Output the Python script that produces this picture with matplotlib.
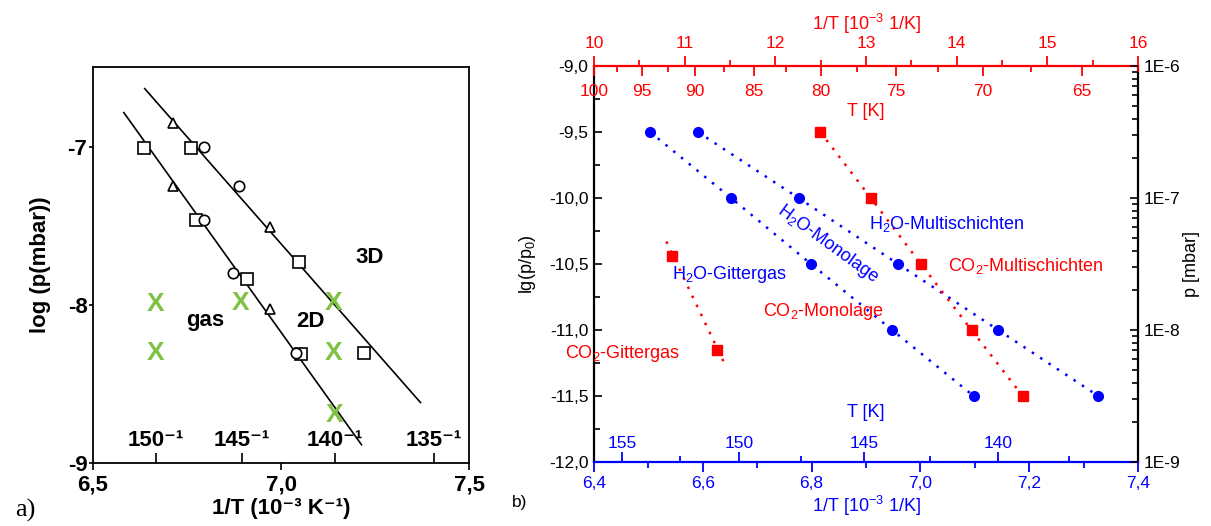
import numpy as np
import matplotlib.pyplot as plt
from matplotlib.ticker import FixedLocator, FuncFormatter, MultipleLocator, NullFormatter

plt.rcParams['font.family'] = ['Liberation Sans', 'DejaVu Sans']
plt.rcParams['mathtext.default'] = 'regular'

# ---------------- panel a) : log p vs 1/T (scanned plot)
a_sq_x = [6.760, 7.047, 7.221, 6.636, 6.775, 6.910, 7.053]
a_sq_y = [-7.004, -7.726, -8.305, -7.004, -7.459, -7.834, -8.309]
a_ci_x = [6.795, 6.888, 6.795, 6.873, 7.041]
a_ci_y = [-7.0, -7.242, -7.457, -7.794, -8.301]
a_tr_x = [6.713, 6.970, 6.713, 6.972]
a_tr_y = [-6.842, -7.501, -7.242, -8.027]
fit_up_x = [6.6375, 7.371]
fit_up_y = [-6.627, -8.617]
fit_lo_x = [6.582, 7.214]
fit_lo_y = [-6.779, -8.884]
cross_x = [6.667, 6.667, 6.892, 7.139, 7.139, 7.142]
cross_y = [-7.994, -8.301, -7.983, -7.989, -8.301, -8.695]
a_T = [150, 145, 140, 135]
a_xticks = [6.5, 7.0, 7.5]
a_yticks = [-7, -8, -9]

# ---------------- panel b) : lg(p/p0) vs 1/T
lg_vals = [-9.5, -10.0, -10.5, -11.0, -11.5]
h2o_gas_x = [6.503, 6.652, 6.799, 6.948, 7.098]
h2o_multi_x = [6.591, 6.776, 6.959, 7.143, 7.327]
co2_multi_x = [6.816, 6.909, 7.001, 7.094, 7.188]
co2_gas_x = [6.543, 6.626]
co2_gas_y = [-10.442, -11.152]
co2_gas_fit_x = [6.533, 6.639]
co2_gas_fit_y = [-10.33, -11.246]
T_top = [100, 95, 90, 85, 80, 75, 70, 65]
T_top_minor = [97.5, 92.5, 87.5, 82.5, 77.5, 72.5, 67.5, 62.5]
T_bot = [155, 150, 145, 140]
T_bot_minor = [152.5, 147.5, 142.5, 137.5]
p_ticks = [1e-9, 1e-8, 1e-7, 1e-6]
p_labels = ['1E-9', '1E-8', '1E-7', '1E-6']

blue = '#0000ff'
red = '#ff0000'
green = '#7dc242'
comma = FuncFormatter(lambda v, p: f'{v:.1f}'.replace('.', ','))

fig = plt.figure(figsize=(12.11, 5.26), dpi=100)

# ===== a)
ax1 = fig.add_axes([0.0768, 0.1198, 0.3105, 0.7528])
ax1.plot(fit_up_x, fit_up_y, color='k', lw=1.2)
ax1.plot(fit_lo_x, fit_lo_y, color='k', lw=1.2)
ax1.plot(a_sq_x, a_sq_y, ls='none', marker='s', ms=8, mfc='white', mec='k', mew=1.2)
ax1.plot(a_ci_x, a_ci_y, ls='none', marker='o', ms=7.5, mfc='white', mec='k', mew=1.2)
ax1.plot(a_tr_x, a_tr_y, ls='none', marker='^', ms=7, mfc='white', mec='k', mew=1.2)
for cx, cy in zip(cross_x, cross_y):
    ax1.text(cx, cy, 'X', color=green, fontsize=19, fontweight='bold', ha='center', va='center')
ax1.text(7.236, -7.695, '3D', fontsize=16, fontweight='bold', ha='center', va='center')
ax1.text(6.799, -8.095, 'gas', fontsize=16, fontweight='bold', ha='center', va='center')
ax1.text(7.077, -8.105, '2D', fontsize=16, fontweight='bold', ha='center', va='center')
ax1.set_xlim(6.5, 7.5)
ax1.set_ylim(-9, -6.49)
ax1.set_xticks(a_xticks, [f'{v:.1f}'.replace('.', ',') for v in a_xticks], fontsize=16, fontweight='bold')
ax1.set_yticks(a_yticks, [str(v) for v in a_yticks], fontsize=16, fontweight='bold')
ax1.tick_params(axis='x', direction='out', length=5, width=1.2, pad=3)
ax1.tick_params(axis='y', direction='out', length=3, width=1.2, pad=1)
for sp in ax1.spines.values():
    sp.set_linewidth(1.3)
ax1.set_xlabel('1/T (10⁻³ K⁻¹)', fontsize=16, fontweight='bold', labelpad=2)
ax1.set_ylabel('log (p(mbar))', fontsize=16, fontweight='bold', labelpad=12)
ax1t = ax1.twiny()
ax1t.set_xlim(6.5, 7.5)
ax1t.xaxis.set_ticks_position('bottom')
ax1t.set_xticks([1000 / t for t in a_T], [f'{t}⁻¹' for t in a_T], fontsize=16, fontweight='bold')
ax1t.tick_params(axis='x', direction='in', length=7, width=1.2, pad=-24)
for sp in ax1t.spines.values():
    sp.set_visible(False)
fig.text(0.021, 0.03, 'a)', family='Liberation Serif', fontsize=19, ha='center', va='center')

# ===== b)
ax2 = fig.add_axes([0.4905, 0.1217, 0.4492, 0.7528])
dots = (0, (1, 3))
ax2.plot(h2o_gas_x, lg_vals, color=blue, ls=dots, lw=1.8, marker='o', ms=7, mec=blue)
ax2.plot(h2o_multi_x, lg_vals, color=blue, ls=dots, lw=1.8, marker='o', ms=7, mec=blue)
ax2.plot(co2_multi_x, lg_vals, color=red, ls=dots, lw=1.8, marker='s', ms=6.5, mec=red)
ax2.plot(co2_gas_fit_x, co2_gas_fit_y, color=red, ls=dots, lw=1.8)
ax2.plot(co2_gas_x, co2_gas_y, ls='none', color=red, marker='s', ms=6.5)

fs = 13
ax2.text(6.830, -10.35, 'H$_2$O-Monolage', color=blue, fontsize=fs, rotation=-36,
         ha='center', va='center', rotation_mode='anchor')
ax2.text(6.906, -10.198, 'H$_2$O-Multischichten', color=blue, fontsize=fs, ha='left', va='center')
ax2.text(6.544, -10.579, 'H$_2$O-Gittergas', color=blue, fontsize=fs, ha='left', va='center')
ax2.text(7.051, -10.515, 'CO$_2$-Multischichten', color=red, fontsize=fs, ha='left', va='center')
ax2.text(6.710, -10.858, 'CO$_2$-Monolage', color=red, fontsize=fs, ha='left', va='center')
ax2.text(6.347, -11.175, 'CO$_2$-Gittergas', color=red, fontsize=fs, ha='left', va='center', clip_on=False)

ax2.set_xlim(6.4, 7.4)
ax2.set_ylim(-12, -9)
ax2.xaxis.set_major_locator(MultipleLocator(0.2))
ax2.xaxis.set_minor_locator(MultipleLocator(0.1))
ax2.xaxis.set_major_formatter(comma)
ax2.yaxis.set_major_locator(MultipleLocator(0.5))
ax2.yaxis.set_minor_locator(MultipleLocator(0.25))
ax2.yaxis.set_major_formatter(comma)
ax2.tick_params(axis='x', which='both', direction='out', colors=blue, labelsize=12.5, width=1.3)
ax2.tick_params(axis='x', which='major', length=7, pad=3)
ax2.tick_params(axis='x', which='minor', length=4)
ax2.tick_params(axis='y', which='both', direction='in', labelsize=12.5, width=1.2, pad=4)
ax2.tick_params(axis='y', which='major', length=6)
ax2.tick_params(axis='y', which='minor', length=4)
ax2.spines['bottom'].set_color(blue)
ax2.spines['top'].set_color(red)
for sp in ax2.spines.values():
    sp.set_linewidth(1.6)
ax2.set_xlabel('1/T [10$^{-3}$ 1/K]', color=blue, fontsize=fs, labelpad=2)
ax2.set_ylabel('lg(p/p$_0$)', fontsize=fs, labelpad=8)

# bottom T axis (inside)
axTb = ax2.twiny()
axTb.set_xlim(6.4, 7.4)
axTb.xaxis.set_ticks_position('bottom')
axTb.xaxis.set_label_position('bottom')
axTb.set_xticks([1000 / t for t in T_bot], [str(t) for t in T_bot])
axTb.xaxis.set_minor_locator(FixedLocator([1000 / t for t in T_bot_minor]))
axTb.tick_params(axis='x', which='both', direction='in', colors=blue, labelsize=12.5, width=1.3)
axTb.tick_params(axis='x', which='major', length=7, pad=-19)
axTb.tick_params(axis='x', which='minor', length=4)
axTb.text(0.5, 0.124, 'T [K]', transform=axTb.transAxes, color=blue, fontsize=fs, ha='center', va='center')

# top 1/T axis
axt = ax2.twiny()
axt.set_xlim(10, 16)
axt.xaxis.set_major_locator(MultipleLocator(1))
axt.xaxis.set_minor_locator(MultipleLocator(0.5))
axt.tick_params(axis='x', which='both', direction='out', colors=red, labelsize=12.5, width=1.3)
axt.tick_params(axis='x', which='major', length=7, pad=4)
axt.tick_params(axis='x', which='minor', length=4)
axt.set_xlabel('1/T [10$^{-3}$ 1/K]', color=red, fontsize=fs, labelpad=4)

# top T axis (inside)
axTt = ax2.twiny()
axTt.set_xlim(10, 16)
axTt.set_xticks([1000 / t for t in T_top], [str(t) for t in T_top])
axTt.xaxis.set_minor_locator(FixedLocator([1000 / t for t in T_top_minor]))
axTt.tick_params(axis='x', which='both', direction='in', colors=red, labelsize=12.5, width=1.3)
axTt.tick_params(axis='x', which='major', length=7, pad=-24)
axTt.tick_params(axis='x', which='minor', length=4)
axTt.text(0.5, 0.884, 'T [K]', transform=axTt.transAxes, color=red, fontsize=fs, ha='center', va='center')

# right pressure axis
axr = ax2.twinx()
axr.set_yscale('log')
axr.set_ylim(1e-9, 1e-6)
axr.set_yticks(p_ticks, p_labels)
axr.yaxis.set_minor_formatter(NullFormatter())
axr.tick_params(axis='y', which='both', direction='in', labelsize=12.5, width=1.2, pad=4)
axr.tick_params(axis='y', which='major', length=6)
axr.tick_params(axis='y', which='minor', length=4)
axr.set_ylabel('p [mbar]', fontsize=fs, labelpad=2)

for a in (axTb, axt, axTt, axr):
    for sp in a.spines.values():
        sp.set_visible(False)

fig.text(0.4294, 0.044, 'b)', fontsize=12.5, ha='center', va='center')

fig.savefig('out.png', dpi=100)
